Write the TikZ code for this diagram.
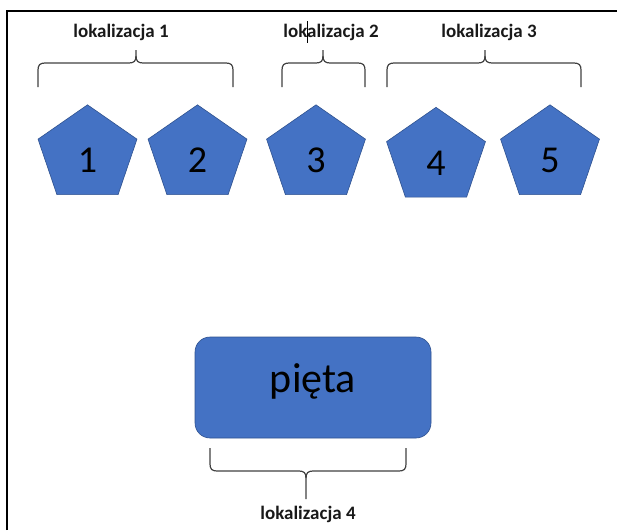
\documentclass[tikz,border=0pt]{standalone}
\usepackage{fontspec}
\setmainfont{Carlito}
\usetikzlibrary{shapes.geometric}
\definecolor{pblue}{HTML}{4472C4}
\definecolor{pedge}{HTML}{2F528F}
\newcommand\cbrace[7]{% x1 x2 mid yh dir endlen tiplen
  \draw[bracestyle] (#1,{#4+(#5)*#6}) -- (#1,{#4+(#5)*7}) .. controls (#1,{#4+(#5)*2}) and ({#1+2},#4) .. ({#1+7},#4)
    -- ({#3-7},#4) .. controls ({#3-2},#4) and (#3,{#4-(#5)*2}) .. (#3,{#4-(#5)*7}) -- (#3,{#4-(#5)*#7});
  \draw[bracestyle] (#3,{#4-(#5)*7}) .. controls (#3,{#4-(#5)*2}) and ({#3+2},#4) .. ({#3+7},#4)
    -- ({#2-7},#4) .. controls ({#2-2},#4) and (#2,{#4+(#5)*2}) .. (#2,{#4+(#5)*7}) -- (#2,{#4+(#5)*#6});}
\begin{document}
\begin{tikzpicture}[x=1pt,y=-1pt,
  pent/.style={regular polygon, regular polygon sides=5, minimum size=104pt, inner sep=0pt,
    fill=pblue, draw=pedge, line width=0.6pt, yscale=0.955, transform shape},
  digit/.style={font=\fontsize{38}{38}\selectfont, inner sep=0pt},
  lbl/.style={font=\bfseries\fontsize{19}{19}\selectfont, inner sep=0pt, text=black!90},
  bracestyle/.style={draw=black!75, line width=1.2pt}]
\useasboundingbox (0,0) rectangle (617,530);
\draw[line width=1.8pt] (7,530) -- (7,11) -- (617,11);
% pentagons
\node[pent] (p1) at (87.5,154.5) {};
\node[pent] (p2) at (197.5,154.5) {};
\node[pent] (p3) at (316,154.5) {};
\node[pent] (p4) at (436,157) {};
\node[pent] (p5) at (550,154.5) {};
\node[digit] (t1) at (87.5,160) {1};
\node[digit] (t2) at (197.5,160) {2};
\node[digit] (t3) at (316,160) {3};
\node[digit] (t4) at (436,163) {4};
\node[digit] (t5) at (550,160) {5};
% labels
\node[lbl] (l1) at (121,32) {lokalizacja 1};
\node[lbl] (l2) at (331,32) {lokalizacja 2};
\node[lbl] (l3) at (489,32) {lokalizacja 3};
\node[lbl] (l4) at (308,514) {lokalizacja 4};
\draw[line width=0.9pt] (307,21) -- (307,43);
% braces
\cbrace{38}{233}{136}{63}{1}{24}{13}
\cbrace{282}{365}{323}{63}{1}{24}{13}
\cbrace{387}{581}{485}{63}{1}{24}{13}
\cbrace{210}{406}{306}{471}{-1}{23}{28}
% heel
\node[rounded corners=15pt, fill=pblue, draw=pedge, line width=0.6pt, minimum width=236pt, minimum height=101pt,
  inner sep=0pt] (heel) at (313,387.5) {};
\node[font=\fontsize{42}{42}\selectfont, inner sep=0pt] (heeltext) at (313,381) {pięta};
\end{tikzpicture}
\end{document}
